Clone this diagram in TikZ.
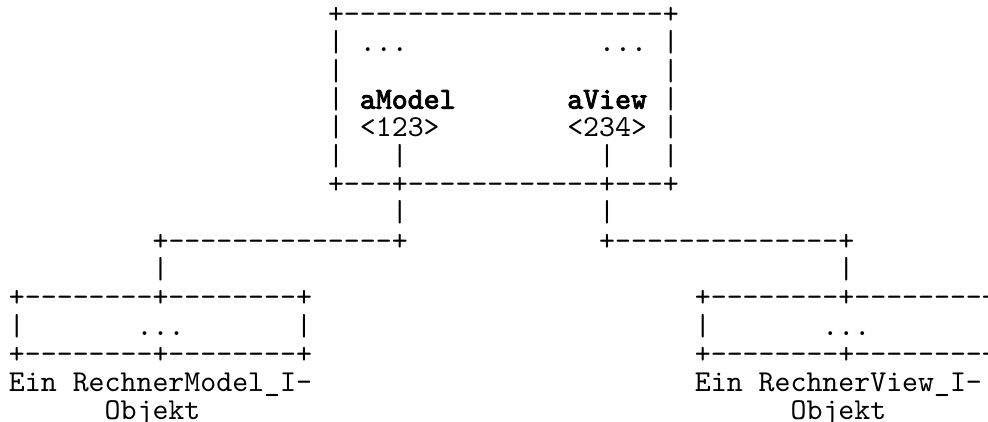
\documentclass[tikz,border=0pt]{standalone}
\usepackage{fontspec}
\setmonofont{lmmono10-regular.otf}[BoldFont=lmmono10-regular.otf, BoldFeatures={FakeBold=3}]
\newcommand\asciifont{\ttfamily\fontsize{30.38}{28.3}\selectfont}
\tikzset{asc/.style={anchor=base west, inner sep=0pt, outer sep=0pt, font=\asciifont, text=black}}
\begin{document}
\begin{tikzpicture}[x=1pt,y=-1pt]
\useasboundingbox (0,0) rectangle (988,422);
\fill[white] (0,0) rectangle (988,422);
\clip (0,0) rectangle (988,422);
\begin{scope}[shift={(9,23.7)}, x=15.95pt, y=-28.3pt]
  % top object box
  \node[asc] (objtop) at (20,0) {+--------------------+};
  \foreach \r in {1,...,5} {
    \node[asc] (objL\r) at (20,\r) {|};
    \node[asc] (objR\r) at (41,\r) {|};
  }
  \node[asc] (dotsA) at (22,1) {...};
  \node[asc] (dotsB) at (37,1) {...};
  \node[asc] (amodel) at (22,3) {\textbf{aModel}};
  \node[asc] (aview) at (35,3) {\textbf{aView}};
  \node[asc] (idA) at (22,4) {<123>};
  \node[asc] (idB) at (35,4) {<234>};
  \node[asc] (barA5) at (24,5) {|};
  \node[asc] (barB5) at (37,5) {|};
  \node[asc] (objbot) at (20,6) {+---+------------+---+};
  % connectors
  \node[asc] (barA7) at (24,7) {|};
  \node[asc] (barB7) at (37,7) {|};
  \node[asc] (hA8) at (9,8) {+--------------+};
  \node[asc] (hB8) at (37,8) {+--------------+};
  \node[asc] (barA9) at (9,9) {|};
  \node[asc] (barB9) at (52,9) {|};
  % left object
  \node[asc] (lefttop) at (0,10) {+--------+--------+};
  \node[asc] (leftL) at (0,11) {|};
  \node[asc] (leftdots) at (8,11) {...};
  \node[asc] (leftR) at (18,11) {|};
  \node[asc] (leftbot) at (0,12) {+--------+--------+};
  \node[asc] (leftlab1) at (0,13) {Ein RechnerModel\_I-};
  \node[asc] (leftlab2) at (6,14) {Objekt};
  % right object
  \node[asc] (righttop) at (43,10) {+--------+--------+};
  \node[asc] (rightL) at (43,11) {|};
  \node[asc] (rightdots) at (51,11) {...};
  \node[asc] (rightbot) at (43,12) {+--------+--------+};
  \node[asc] (rightlab1) at (43,13) {Ein RechnerView\_I-};
  \node[asc] (rightlab2) at (49,14) {Objekt};
\end{scope}
\end{tikzpicture}
\end{document}
